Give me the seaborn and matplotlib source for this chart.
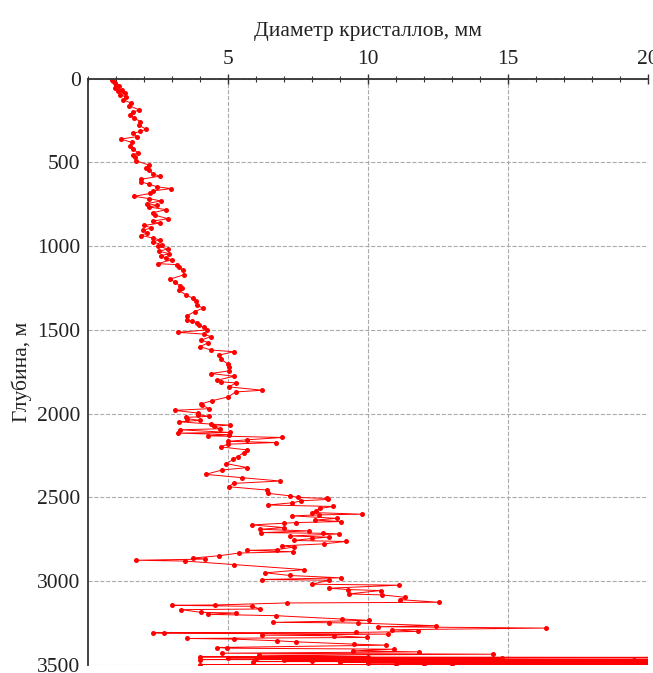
import pandas as pd
import seaborn as sns
import matplotlib.pyplot as plt
from matplotlib.ticker import MultipleLocator

# Depth (m) and crystal diameter (mm)
depth_m = [
    5, 15, 25, 35, 45, 55, 65, 75, 85, 95,
    110, 125, 146, 160, 186, 200, 216, 235, 256, 275,
    302, 315, 326, 345, 360, 380, 402, 420, 442, 456,
    470, 490, 516, 530, 546, 566, 582, 600, 616, 630,
    645, 656, 670, 685, 702, 716, 730, 745, 756, 766,
    782, 800, 815, 836, 850, 862, 876, 890, 906, 920,
    936, 950, 962, 975, 990,
    1000, 1016, 1030, 1045, 1056, 1070, 1080, 1104, 1110, 1125,
    1144, 1170, 1196, 1215, 1236, 1250, 1264, 1290, 1310, 1330,
    1350, 1370, 1390, 1416, 1440, 1448, 1456, 1470, 1484, 1500,
    1514, 1525, 1540, 1560, 1576, 1600, 1620, 1630, 1650, 1675,
    1704, 1720, 1744, 1760, 1776, 1800, 1810, 1816, 1840, 1860,
    1870, 1900, 1922, 1942, 1950, 1970, 1980, 1996,
    2005, 2016, 2022, 2030, 2040, 2048, 2062, 2068, 2075, 2090,
    2096, 2112, 2116, 2125, 2132, 2142, 2156, 2165, 2172, 2182,
    2198, 2216, 2232, 2256, 2272, 2298, 2322, 2336, 2362, 2382,
    2402, 2416, 2436, 2456, 2476, 2490, 2500, 2506, 2512, 2520,
    2532, 2545, 2554, 2565, 2580, 2590, 2600, 2604, 2610, 2625,
    2635, 2644, 2650, 2654, 2664, 2680, 2690, 2700, 2710, 2714,
    2718, 2730, 2737, 2745, 2757, 2763, 2777, 2789, 2796, 2812,
    2816, 2824, 2832, 2848, 2862, 2868, 2875, 2880, 2901, 2931,
    2950, 2966, 2980, 2990, 2994, 3018, 3024, 3042, 3050, 3056,
    3076, 3082, 3096, 3110, 3126, 3130, 3142, 3144, 3150, 3166,
    3170, 3186, 3190, 3198, 3206, 3226, 3234, 3246, 3248, 3250,
    3266, 3272, 3280, 3290, 3300, 3306, 3308, 3310, 3316, 3322,
    3326, 3336, 3342, 3346, 3356, 3362, 3376, 3382, 3396, 3400,
    3406, 3416, 3422, 3430, 3436, 3442, 3450,
    3452, 3455, 3458, 3461, 3463, 3466, 3468, 3470, 3472, 3474,
    3476, 3478, 3480, 3482, 3484, 3486, 3488, 3490, 3492, 3494,
    3495, 3496, 3497, 3498, 3499, 3500,
]
diameter_mm = [
    0.85, 0.9, 0.95, 1.0, 1.1, 0.95, 1.2, 1.05, 1.3, 1.15,
    1.35, 1.25, 1.54, 1.45, 1.83, 1.6, 1.48, 1.65, 1.87, 1.8,
    2.07, 1.85, 1.6, 1.75, 1.18, 1.55, 1.5, 1.62, 1.77, 1.6,
    1.68, 1.71, 2.19, 2.05, 2.19, 2.3, 2.55, 1.9, 1.89, 2.19,
    2.45, 2.96, 2.3, 2.2, 1.65, 2.19, 2.6, 2.1, 2.45, 2.19,
    2.79, 2.3, 2.4, 2.85, 2.3, 2.55, 2.0, 2.25, 1.95, 2.1,
    1.89, 2.3, 2.55, 2.3, 2.65,
    2.48, 2.85, 2.54, 2.9, 2.6, 2.77, 3.0, 2.48, 3.19, 3.25,
    3.4, 3.43, 2.93, 3.1, 3.29, 3.35, 3.25, 3.49, 3.73, 3.85,
    3.88, 4.1, 3.81, 3.52, 3.54, 3.7, 3.9, 3.95, 4.14, 4.23,
    3.21, 4.15, 4.38, 4.05, 4.29, 4.0, 4.4, 5.21, 4.68, 4.75,
    5.0, 5.02, 5.04, 4.38, 5.21, 4.62, 4.75, 5.27, 5.04, 6.23,
    5.27, 5.0, 4.44, 4.02, 4.08, 4.32, 3.09, 3.91,
    3.92, 4.32, 3.49, 3.55, 4.0, 3.25, 4.38, 5.06, 4.5, 4.7,
    3.28, 5.06, 3.21, 5.05, 4.28, 6.94, 5.67, 5.0, 6.73, 4.99,
    4.73, 5.67, 5.57, 5.34, 5.18, 4.94, 5.69, 4.79, 4.2, 5.49,
    6.87, 5.2, 5.02, 6.4, 6.44, 7.2, 7.5, 8.55, 8.56, 7.62,
    7.3, 6.41, 8.76, 8.3, 8.15, 8.0, 9.79, 8.26, 7.3, 8.9,
    8.1, 9.03, 7.44, 6.99, 5.86, 7.0, 6.15, 7.9, 6.17, 8.4,
    8.97, 7.2, 8.59, 8.0, 7.35, 9.2, 8.44, 6.91, 7.35, 6.74,
    5.68, 7.32, 5.39, 4.68, 3.74, 4.18, 1.71, 3.47, 5.21, 7.73,
    6.33, 7.21, 9.03, 6.21, 8.61, 8.0, 11.1, 8.62, 9.3, 10.45,
    9.31, 10.51, 11.32, 11.13, 12.54, 7.09, 4.55, 2.98, 5.85, 6.15,
    3.31, 4.04, 5.3, 4.28, 6.71, 9.07, 10.02, 6.62, 8.62, 9.66,
    12.43, 10.37, 16.36, 10.87, 11.79, 9.57, 2.31, 2.72, 10.73, 6.2,
    8.8, 9.98, 3.55, 5.22, 6.76, 7.42, 9.51, 10.63, 4.61, 4.96,
    10.93, 9.47, 11.81, 4.79, 14.47, 6.09, 10.0,
    4.0, 21.0, 5.0, 14.8, 6.0, 22.0, 4.0, 19.5, 7.0, 23.0,
    8.0, 16.4, 5.9, 24.0, 9.0, 21.0, 10.0, 25.0, 11.0, 22.0,
    12.0, 26.0, 13.0, 24.0, 4.0, 22.0,
]
x_ticks = [5, 10, 15, 20]
y_ticks = [0, 500, 1000, 1500, 2000, 2500, 3000, 3500]

df = pd.DataFrame({'Depth': depth_m, 'Diameter': diameter_mm})

sns.set_style('white')
plt.rcParams['font.family'] = ['Liberation Serif', 'DejaVu Serif']

fig = plt.figure(figsize=(6.53, 6.73), dpi=100)
ax = fig.add_axes([0.135, 0.012, 0.857, 0.871])

sns.lineplot(data=df, x='Diameter', y='Depth', sort=False, estimator=None,
             color='red', linewidth=0.7, marker='o', markersize=3.6,
             markeredgewidth=0, ax=ax)

ax.set_xlim(0, 20)
ax.set_ylim(3500, 0)
ax.set_xticks(x_ticks)
ax.set_yticks(y_ticks)
ax.xaxis.set_minor_locator(MultipleLocator(1))
ax.xaxis.tick_top()
ax.xaxis.set_label_position('top')
ax.set_xlabel('Диаметр кристаллов, мм', fontsize=15.5, labelpad=10,
              color='#222222')
ax.set_ylabel('Глубина, м', fontsize=15.5, labelpad=4, color='#222222')
ax.tick_params(axis='both', which='major', labelsize=15.5, direction='inout',
               length=7, width=1, color='#333333', labelcolor='#222222')
ax.tick_params(axis='y', which='major', pad=2)
ax.tick_params(axis='x', which='minor', direction='inout', length=4,
               width=0.8, color='#333333', top=True, bottom=False)
ax.grid(True, which='major', linestyle='--', color='#aaaaaa', linewidth=0.8)

for side in ['right', 'bottom']:
    ax.spines[side].set_visible(False)
for side in ['top', 'left']:
    ax.spines[side].set_color('#333333')
    ax.spines[side].set_linewidth(1.3)

fig.savefig('out.png', dpi=100)
